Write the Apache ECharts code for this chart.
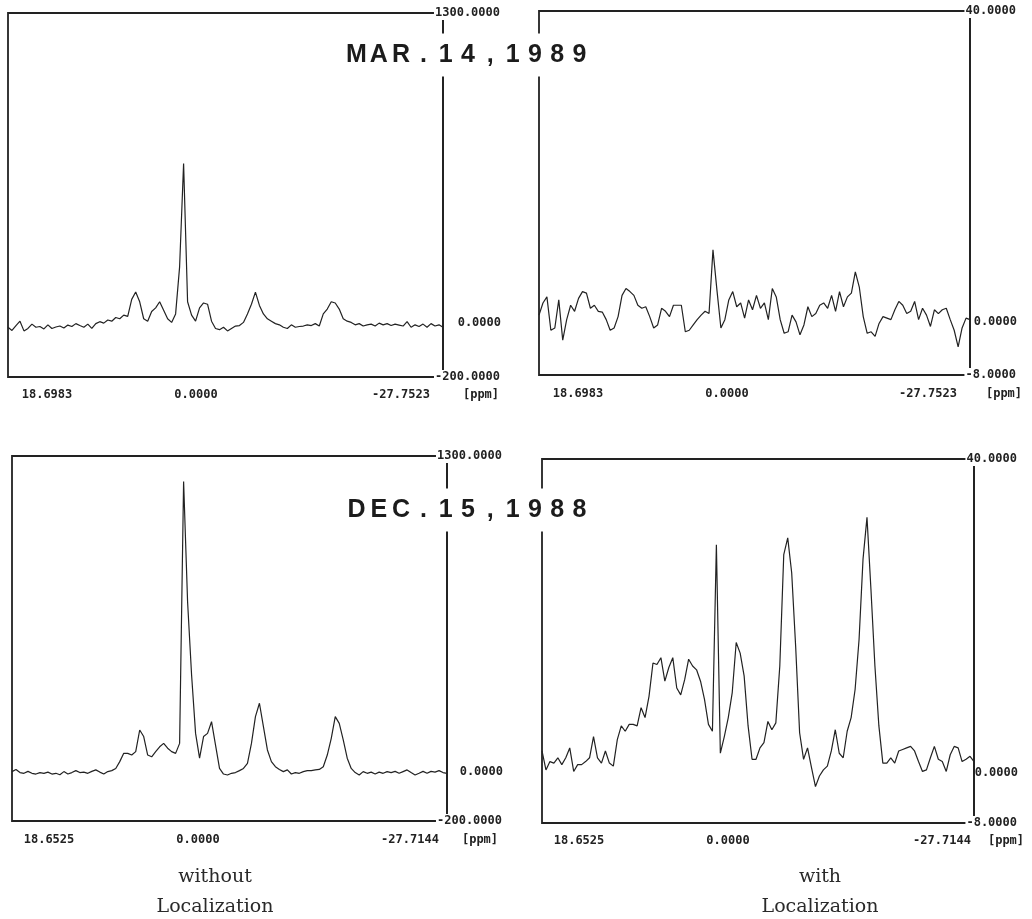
<!DOCTYPE html>
<html>
<head>
<meta charset="utf-8">
<script src="https://cdn.jsdelivr.net/npm/echarts@6/dist/echarts.min.js"></script>
<style>
  html, body { margin: 0; padding: 0; background: #fff; }
  #chart { width: 1032px; height: 919px; }
</style>
</head>
<body>
<div id="chart"></div>
<script>
// ppm range of each row (left edge, right edge)
const ppmMar = [18.6983, -27.7523]
const ppmDec = [18.6525, -27.7144]

// intensities, evenly spaced in ppm from left to right
const marchWithout = [
  5, -8, 12, 30, -10, 0, 18, 5, 8, -2,
  15, 0, 6, 10, 2, 14, 8, 20, 12, 5,
  18, 0, 20, 28, 22, 35, 30, 45, 40, 55,
  50, 120, 150, 110, 40, 30, 70, 85, 110, 75,
  40, 25, 60, 254, 680, 110, 55, 30, 85, 105,
  100, 30, 0, -5, 5, -10, 0, 10, 12, 25,
  60, 100, 150, 95, 60, 40, 30, 20, 15, 5,
  0, 15, 5, 8, 10, 15, 12, 20, 10, 60,
  80, 110, 105, 80, 40, 30, 25, 15, 20, 10,
  15, 18, 10, 22, 15, 20, 12, 18, 14, 10,
  28, 5, 15, 8, 18, 5, 20, 10, 15, 5
]
const marchWith = [
  -0.1, 1.5, 2.3, -2.1, -1.8, 1.9, -3.4, -0.7, 1.2, 0.4,
  2.1, 3.0, 2.8, 0.8, 1.2, 0.4, 0.3, -0.7, -2.1, -1.8,
  -0.3, 2.5, 3.4, 3.0, 2.5, 1.2, 0.8, 1.0, -0.3, -1.8,
  -1.4, 0.8, 0.4, -0.3, 1.2, 1.2, 1.2, -2.3, -2.1, -1.4,
  -0.7, -0.1, 0.4, 0.1, 8.5, 3.2, -1.8, -0.7, 1.9, 3.0,
  1.0, 1.5, -0.5, 1.9, 0.6, 2.5, 0.8, 1.5, -0.7, 3.4,
  2.3, -0.7, -2.5, -2.3, -0.1, -1.0, -2.7, -1.4, 1.0, -0.3,
  0.1, 1.2, 1.5, 0.8, 2.5, 0.4, 3.0, 1.0, 2.3, 2.8,
  5.6, 3.6, -0.3, -2.5, -2.3, -2.9, -1.2, -0.3, -0.5, -0.7,
  0.6, 1.7, 1.2, 0.1, 0.4, 1.7, -0.7, 0.8, -0.1, -1.6,
  0.6, 0.1, 0.6, 0.8, -0.7, -2.1, -4.3, -1.8, -0.5, -0.7
]
const decWithout = [
  3, 12, -1, -4, 4, -4, -7, -1, -4, 1,
  -7, -4, -10, 3, -7, -1, 7, -1, 1, -4,
  4, 10, 1, -7, 3, 7, 16, 44, 78, 78,
  71, 85, 174, 147, 71, 64, 85, 105, 119, 99,
  85, 78, 119, 1195, 700, 400, 160, 58, 147, 160,
  208, 112, 16, -7, -11, -4, -1, 7, 16, 37,
  119, 229, 284, 188, 92, 44, 23, 12, 3, 10,
  -7, -1, -4, 3, 7, 7, 10, 12, 23, 71,
  140, 229, 201, 133, 58, 16, -1, -11, 3, -4,
  1, -7, 1, -4, 3, -1, 4, -4, 3, 10,
  -1, -11, -4, 4, -4, 4, 1, 7, -1, -4
]
const decWith = [
  1.5, -1.0, 0.1, -0.1, 0.6, -0.3, 0.6, 1.9, -1.2, -0.3,
  -0.3, 0.1, 0.6, 3.4, 0.6, -0.1, 1.5, -0.1, -0.5, 3.0,
  4.8, 4.1, 5.0, 5.0, 4.8, 7.2, 5.9, 8.7, 13.1, 12.9,
  13.8, 10.7, 12.5, 13.8, 9.8, 8.9, 10.9, 13.6, 12.7, 12.2,
  10.7, 8.3, 5.0, 4.1, 28.7, 1.2, 3.4, 5.9, 9.2, 15.8,
  14.4, 11.4, 4.8, 0.4, 0.4, 1.9, 2.6, 5.4, 4.3, 5.2,
  12.7, 27.4, 29.6, 25.0, 15.3, 3.9, 0.4, 1.9, -0.7, -3.2,
  -1.8, -1.0, -0.5, 1.5, 4.3, 1.2, 0.6, 4.1, 5.9, 9.6,
  16.2, 26.8, 32.3, 22.8, 12.7, 4.8, -0.1, -0.1, 0.6, -0.1,
  1.5, 1.7, 1.9, 2.1, 1.5, 0.1, -1.2, -1.0, 0.6, 2.1,
  0.4, 0.1, -1.2, 1.0, 2.1, 1.9, 0.1, 0.4, 0.8, 0.1
]

const titles = ['MAR.14,1989', 'DEC.15,1988']
const captions = ['without\nLocalization', 'with\nLocalization']

// y ranges: [min, max, interval]
const yRangeWithout = [-200, 1300, 100]
const yRangeWith = [-8, 40, 8]

const panels = [
  { grid: { left: 8, top: 13, width: 435, height: 364 }, ppm: ppmMar, y: yRangeWithout, data: marchWithout,
    margin: 58, zeroPad: [0, 0, 11, 0], xl: [47, 196, 401, 481], xlY: 395 },
  { grid: { left: 539, top: 11, width: 431, height: 364 }, ppm: ppmMar, y: yRangeWith, data: marchWith,
    margin: 47, zeroPad: [16, 0, 0, 0], xl: [578, 727, 928, 1004], xlY: 394 },
  { grid: { left: 12, top: 456, width: 435, height: 365 }, ppm: ppmDec, y: yRangeWithout, data: decWithout,
    margin: 56, zeroPad: [0, 0, 0, 0], xl: [49, 198, 410, 480], xlY: 840 },
  { grid: { left: 542, top: 459, width: 432, height: 364 }, ppm: ppmDec, y: yRangeWith, data: decWith,
    margin: 44, zeroPad: [22, 0, 0, 0], xl: [579, 728, 942, 1006], xlY: 841 }
]

const ink = '#222'
const monoFont = 'DejaVu Sans Mono'

const chart = echarts.init(document.getElementById('chart'), null, { renderer: 'canvas' })

const grids = panels.map((p) => ({
  ...p.grid,
  show: true,
  borderColor: ink,
  borderWidth: 1.8,
  backgroundColor: 'transparent',
  containLabel: false
}))

const xAxes = panels.map((p, i) => ({
  type: 'value',
  gridIndex: i,
  min: p.ppm[1],
  max: p.ppm[0],
  inverse: true,
  axisLine: { show: false, onZero: false },
  axisTick: { show: false },
  axisLabel: { show: false },
  splitLine: { show: false }
}))

const yAxes = panels.map((p, i) => ({
  type: 'value',
  gridIndex: i,
  position: 'right',
  min: p.y[0],
  max: p.y[1],
  interval: p.y[2],
  axisLine: { show: true, onZero: false, lineStyle: { color: ink, width: 1.8 } },
  axisTick: { show: false },
  splitLine: { show: false },
  axisLabel: {
    margin: p.margin,
    align: 'right',
    color: ink,
    fontFamily: monoFont,
    fontWeight: 'bold',
    fontSize: 12,
    formatter: (v) => {
      if (v === p.y[0] || v === p.y[1]) return '{e|' + v.toFixed(4) + '}'
      if (v === 0) return '{z|' + v.toFixed(4) + '}'
      return ''
    },
    rich: {
      e: { backgroundColor: '#fff', padding: [1, 1, 1, 1] },
      z: { padding: p.zeroPad }
    }
  }
}))

const series = panels.map((p, i) => {
  const step = (p.ppm[0] - p.ppm[1]) / (p.data.length - 1)
  return {
    type: 'line',
    xAxisIndex: i,
    yAxisIndex: i,
    showSymbol: false,
    animation: false,
    lineStyle: { color: ink, width: 1.2 },
    data: p.data.map((v, k) => [p.ppm[0] - k * step, v])
  }
})

// tick labels under each plot
const graphics = []
panels.forEach((p) => {
  const texts = [p.ppm[0].toFixed(4), (0).toFixed(4), p.ppm[1].toFixed(4), '[ppm]']
  texts.forEach((t, k) => {
    graphics.push({
      type: 'text',
      x: p.xl[k],
      y: p.xlY,
      z: 20,
      style: {
        text: t,
        fill: ink,
        font: 'bold 12px "' + monoFont + '"',
        align: 'center',
        verticalAlign: 'middle'
      }
    })
  })
})

// dates drawn across the two plots of each row, evenly spaced letters
const titleY = [55, 510]
titles.forEach((t, r) => {
  graphics.push({
    type: 'text',
    x: 468,
    y: titleY[r],
    z: 50,
    style: {
      text: t.split('').map((c) => '{c|' + c + '}').join(''),
      align: 'center',
      verticalAlign: 'middle',
      backgroundColor: '#fff',
      padding: [9, 10],
      rich: {
        c: { width: 22.3, align: 'center', font: 'bold 25px "Liberation Sans"', fill: '#1c1c1c' }
      }
    }
  })
})

const captionX = [215, 820]
captions.forEach((t, k) => {
  graphics.push({
    type: 'text',
    x: captionX[k],
    y: 892,
    z: 20,
    style: {
      text: t,
      fill: '#2a2a2a',
      font: '19px "DejaVu Serif"',
      lineHeight: 30,
      align: 'center',
      verticalAlign: 'middle'
    }
  })
})

chart.setOption({
  animation: false,
  backgroundColor: '#fff',
  grid: grids,
  xAxis: xAxes,
  yAxis: yAxes,
  series: series,
  graphic: graphics
})
</script>
</body>
</html>
